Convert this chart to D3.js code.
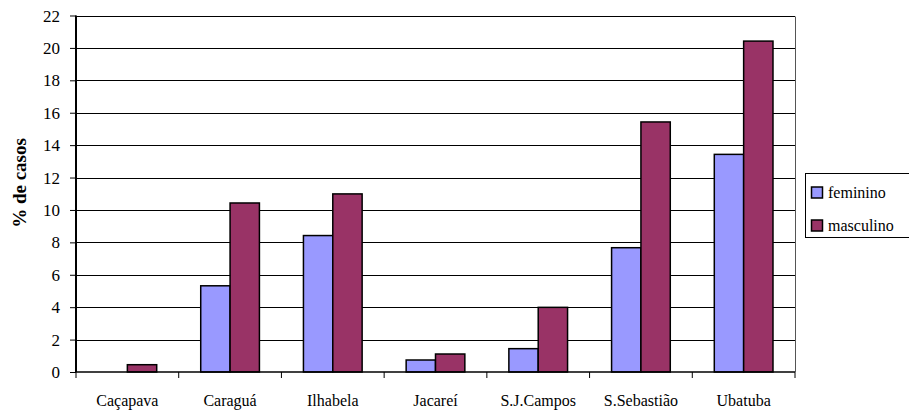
<!DOCTYPE html>
<html><head><meta charset="utf-8">
<script src="https://cdn.jsdelivr.net/npm/d3@7"></script>
<style>body{margin:0;background:#fff;}</style>
</head><body><svg id="c" width="909" height="412"></svg>
<script>
const categories = ["Caçapava","Caraguá","Ilhabela","Jacareí","S.J.Campos","S.Sebastião","Ubatuba"];
const feminino = [0, 5.32, 8.42, 0.74, 1.44, 7.67, 13.43];
const masculino = [0.45, 10.43, 10.99, 1.11, 3.99, 15.43, 20.42];
const seriesNames = ["feminino","masculino"];
const seriesColors = ["#9999FF","#993366"];
const yTicks = [0,2,4,6,8,10,12,14,16,18,20,22];

const FONT = "'Liberation Serif'";
const svg = d3.select("#c");
const L = 76, R = 795, T = 15.5, B = 372;
const x = d3.scaleBand().domain(categories).range([L, R]).paddingInner(0).paddingOuter(0);
const bw = x.bandwidth() / 3.5;
const xs = d3.scaleBand().domain(seriesNames).range([0.75*bw, 2.75*bw]);
const y = d3.scaleLinear().domain([0,22]).range([B, T]);

// gridlines
svg.append("g").selectAll("line").data(yTicks.filter(d=>d>0)).join("line")
  .attr("x1", L).attr("x2", R)
  .attr("y1", d=>Math.round(y(d))+0.5).attr("y2", d=>Math.round(y(d))+0.5)
  .attr("stroke","#000").attr("stroke-width",1);
svg.append("line").attr("x1",R+0.5).attr("x2",R+0.5).attr("y1",Math.round(T)+0.5).attr("y2",B).attr("stroke","#555").attr("stroke-width",1);

// bars
const data = [feminino, masculino];
seriesNames.forEach((s,i)=>{
  svg.append("g").selectAll("rect").data(categories.map((c,j)=>({c, v:data[i][j]})).filter(d=>d.v>0)).join("rect")
    .attr("x", d=>x(d.c)+xs(s))
    .attr("y", d=>y(d.v))
    .attr("width", xs.bandwidth())
    .attr("height", d=>B - y(d.v))
    .attr("fill", seriesColors[i])
    .attr("stroke","#000").attr("stroke-width",1.5);
});

// y axis (lines from d3 axis, labels placed from the same scale)
const ya = svg.append("g").attr("transform",`translate(${L},0)`)
  .call(d3.axisLeft(y).tickValues(yTicks).tickSize(6).tickFormat(""));
ya.select(".domain").attr("stroke","#000").attr("stroke-width",2).attr("d",`M0,${T}V${B}`);
ya.selectAll(".tick line").attr("stroke","#000");
ya.selectAll(".tick text").remove();
yTicks.forEach(v=>{
  svg.append("text").attr("x",L-16).attr("y",y(v)+6).attr("text-anchor","end")
    .style("font-family",FONT).style("font-size","17px").text(String(v));
});

// x axis
const xa = svg.append("g").attr("transform",`translate(0,${B})`)
  .call(d3.axisBottom(x).tickSize(0).tickFormat(""));
xa.select(".domain").attr("stroke","#000").attr("stroke-width",1.5).attr("d",`M${L},0H${R}`);
xa.selectAll(".tick text").remove();
categories.forEach(c=>{
  svg.append("text").attr("x",x(c)+x.bandwidth()/2).attr("y",B+34).attr("text-anchor","middle")
    .style("font-family",FONT).style("font-size","16px").text(c);
});
svg.append("g").selectAll("line").data(categories.concat(["_end"])).join("line")
  .attr("x1",(d,i)=>i<categories.length? x(d): R).attr("x2",(d,i)=>i<categories.length? x(d): R)
  .attr("y1",B).attr("y2",B+6).attr("stroke","#000").attr("stroke-width",1);

// y title
svg.append("text").attr("transform","translate(26,183) rotate(-90)")
  .attr("text-anchor","middle").style("font-family",FONT).style("font-size","19px").style("font-weight","bold").text("% de casos");

// legend
svg.append("rect").attr("x",805.5).attr("y",173.5).attr("width",110).attr("height",64)
  .attr("fill","#fff").attr("stroke","#000").attr("stroke-width",1);
seriesNames.forEach((s,i)=>{
  const cy = 193 + i*33;
  svg.append("rect").attr("x",811.5).attr("y",cy-6).attr("width",11).attr("height",11)
    .attr("fill",seriesColors[i]).attr("stroke","#000").attr("stroke-width",1.5);
  svg.append("text").attr("x",828).attr("y",cy+5).style("font-family",FONT).style("font-size","16px").text(s);
});
</script></body></html>
